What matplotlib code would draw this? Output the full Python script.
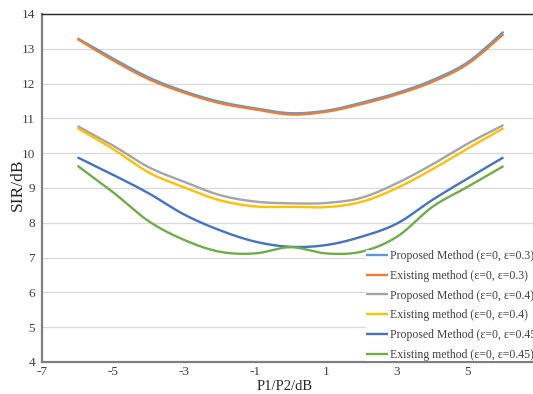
import numpy as np
import matplotlib
matplotlib.use("Agg")
import matplotlib.pyplot as plt

# P1/P2 in dB
p_ratio = np.array([-6, -5, -4, -3, -2, -1, 0, 1, 2, 3, 4, 5, 6])

proposed_03 = np.array([13.30, 12.72, 12.18, 11.78, 11.48, 11.29, 11.15, 11.22, 11.45, 11.73, 12.10, 12.62, 13.49])
existing_03 = np.array([13.28, 12.67, 12.13, 11.74, 11.44, 11.26, 11.11, 11.19, 11.41, 11.69, 12.05, 12.57, 13.42])
proposed_04 = np.array([10.78, 10.22, 9.60, 9.18, 8.80, 8.61, 8.56, 8.57, 8.72, 9.14, 9.68, 10.28, 10.81])
existing_04 = np.array([10.72, 10.12, 9.45, 9.02, 8.65, 8.47, 8.46, 8.45, 8.60, 9.00, 9.54, 10.14, 10.72])
proposed_045 = np.array([9.88, 9.38, 8.85, 8.24, 7.79, 7.46, 7.31, 7.36, 7.60, 7.98, 8.66, 9.28, 9.88])
existing_045 = np.array([9.64, 8.88, 8.05, 7.51, 7.17, 7.12, 7.30, 7.12, 7.17, 7.60, 8.46, 9.04, 9.63])

labels = ['Proposed Method (ε=0, ε=0.3)', 'Existing method (ε=0, ε=0.3)',
          'Proposed Method (ε=0, ε=0.4)', 'Existing method (ε=0, ε=0.4)',
          'Proposed Method (ε=0, ε=0.45)', 'Existing method (ε=0, ε=0.45)']
colors = ['#5B9BD5', '#ED7D31', '#A5A5A5', '#FFC000', '#4472C4', '#70AD47']

x_ticks = [-7, -5, -3, -1, 1, 3, 5, 7]
y_ticks = list(range(4, 15))


def smooth(x, y, n=30):
    # excel-like smoothed line (catmull-rom as cubic bezier)
    px = np.concatenate([[x[0]], x, [x[-1]]])
    py = np.concatenate([[y[0]], y, [y[-1]]])
    t = np.linspace(0, 1, n)[:, None]
    xs, ys = [], []
    for i in range(1, len(px) - 2):
        p0 = np.array([px[i], py[i]])
        p3 = np.array([px[i + 1], py[i + 1]])
        c1 = p0 + (p3 - np.array([px[i - 1], py[i - 1]])) / 6
        c2 = p3 - (np.array([px[i + 2], py[i + 2]]) - p0) / 6
        b = (1 - t) ** 3 * p0 + 3 * (1 - t) ** 2 * t * c1 + 3 * (1 - t) * t ** 2 * c2 + t ** 3 * p3
        xs.append(b[:, 0])
        ys.append(b[:, 1])
    return np.concatenate(xs), np.concatenate(ys)


plt.rcParams['font.family'] = ['Liberation Serif', 'DejaVu Serif']
plt.rcParams['axes.unicode_minus'] = False

W, H = 533, 394
fig = plt.figure(figsize=(W / 100, H / 100), dpi=100)
ax = fig.add_axes([42 / W, 32 / H, 497 / W, 348 / H])

series = [proposed_03, existing_03, proposed_04, existing_04, proposed_045, existing_045]
for ys, lab, col in zip(series, labels, colors):
    sx, sy = smooth(p_ratio, ys)
    ax.plot(sx, sy, color=col, lw=1.7, label=lab, solid_capstyle='butt')

ax.set_xlim(-7, 7)
ax.set_ylim(4, 14)
ax.set_xticks(x_ticks)
ax.set_yticks(y_ticks)
ax.tick_params(length=0, labelsize=9.5, colors='#404040')
ax.tick_params(axis='y', pad=5)
ax.tick_params(axis='x', pad=3)
ax.grid(axis='y', color='#D9D9D9', lw=0.9)
ax.set_axisbelow(True)
for s in ['left', 'bottom']:
    ax.spines[s].set_color('#7F7F7F')
    ax.spines[s].set_linewidth(1.6)
ax.spines['top'].set_color('#262626')
ax.spines['top'].set_linewidth(1.0)
ax.spines['right'].set_visible(False)

fig.text(18 / W, 1 - 185 / H, 'SIR/dB', rotation=90, ha='center', va='center', fontsize=12.5, color='#262626')
fig.text(285 / W, 1 - 387 / H, 'P1/P2/dB', ha='center', va='center', fontsize=10.5, color='#262626')

leg = ax.legend(loc='upper left', bbox_to_anchor=(366 / W, 1 - 250 / H), bbox_transform=fig.transFigure,
                frameon=True, fancybox=False, edgecolor='none', facecolor='white', framealpha=1,
                borderpad=0, borderaxespad=0, handlelength=1.85, handletextpad=0.15,
                labelspacing=0.66, fontsize=8.5)
for t in leg.get_texts():
    t.set_color('#404040')

fig.savefig('out.png', dpi=100)
